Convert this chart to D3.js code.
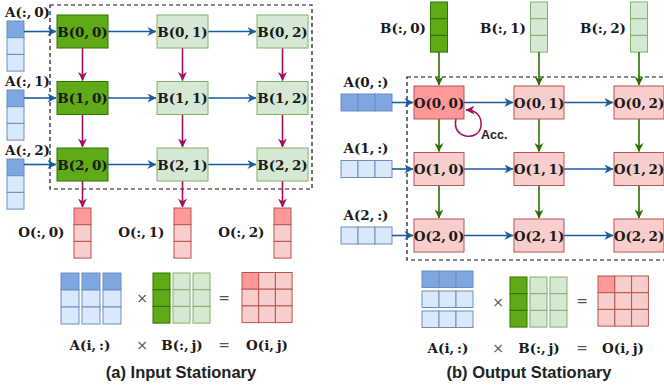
<!DOCTYPE html>
<html>
<head>
<meta charset="utf-8">
<script src="https://cdn.jsdelivr.net/npm/d3@7"></script>
<style>
  body { margin: 0; background: #fff; }
  svg { display: block; }
  .lbl { font-family: "DejaVu Serif", serif; font-weight: bold; font-size: 13.5px; fill: #1a1a1a; }
  .op { font-family: "DejaVu Sans", sans-serif; font-size: 14px; fill: #555; }
  .title { font-family: "Liberation Sans", Arial, sans-serif; font-weight: bold; font-size: 16.5px; fill: #222; }
</style>
</head>
<body>
<svg id="canvas" width="664" height="385"></svg>
<script>
const idx = [0, 1, 2]
const names = { a: "(a) Input Stationary", b: "(b) Output Stationary" }
const eqLabels = ["A(i,\u2009:)", "\u00d7", "B(:,\u2009j)", "=", "O(i,\u2009j)"]
const tsp = "\u2009"

const col = {
  blueD: "#7ea6e0", blueL: "#dae8fc", blueS: "#6c8ebf",
  greenD: "#60a917", greenDS: "#2d7600", greenL: "#d5e8d4", greenS: "#82b366",
  redD: "#ff9999", redL: "#f8cecc", redS: "#b85450",
  arrBlue: "#1a5ca3", arrPurple: "#a0105c", arrGreen: "#2a6e00"
}

const svg = d3.select("#canvas")
const defs = svg.append("defs")
function marker(id, c) {
  defs.append("marker").attr("id", id)
    .attr("viewBox", "0 0 10 10").attr("refX", 9.5).attr("refY", 5)
    .attr("markerWidth", 9).attr("markerHeight", 9).attr("markerUnits", "userSpaceOnUse")
    .attr("orient", "auto")
    .append("path").attr("d", "M0,0 L10,5 L0,10 L3,5 z").attr("fill", c)
}
marker("mb", col.arrBlue); marker("mp", col.arrPurple); marker("mg", col.arrGreen)

function arrow(g, x1, y1, x2, y2, c, m) {
  g.append("line").attr("x1", x1).attr("y1", y1).attr("x2", x2).attr("y2", y2)
    .attr("stroke", c).attr("stroke-width", 1.6).attr("marker-end", `url(#${m})`)
}
function cell(g, x, y, w, h, fill, stroke) {
  g.append("rect").attr("x", x).attr("y", y).attr("width", w).attr("height", h)
    .attr("fill", fill).attr("stroke", stroke).attr("stroke-width", 1)
}
// column vector, n cells stacked vertically
function colVec(g, x, y, w, h, fills, stroke) {
  fills.forEach((f, i) => cell(g, x, y + i * h, w, h, f, stroke))
}
function rowVec(g, x, y, w, h, fills, stroke) {
  fills.forEach((f, i) => cell(g, x + i * w, y, w, h, f, stroke))
}
function text(g, x, y, s, cls, anchor) {
  return g.append("text").attr("x", x).attr("y", y).attr("class", cls)
    .attr("text-anchor", anchor || "middle").text(s)
}

// ---------------- (a) Input Stationary ----------------
const ga = svg.append("g")
const bw = 51, bh = 33
const xA = d3.scaleLinear().domain([0, 2]).range([57, 257])
const yA = d3.scaleLinear().domain([0, 2]).range([15, 148])
const aTop = d3.scaleLinear().domain([0, 2]).range([21, 159])
const ch = 16.7

ga.append("rect").attr("x", 50).attr("y", 5).attr("width", 262).attr("height", 184)
  .attr("fill", "none").attr("stroke", "#111").attr("stroke-dasharray", "4,3").attr("stroke-width", 1.2)

idx.forEach(r => {
  colVec(ga, 7, aTop(r), 17, ch, [col.blueD, col.blueL, col.blueL], col.blueS)
  text(ga, 27.5, aTop(r) - 4, `A(:,${tsp}${r})`, "lbl")
  const yc = yA(r) + bh / 2
  arrow(ga, 24, yc, xA(0) - 1, yc, col.arrBlue, "mb")
  idx.slice(1).forEach(c => arrow(ga, xA(c - 1) + bw, yc, xA(c) - 1, yc, col.arrBlue, "mb"))
})
idx.forEach(c => {
  const xc = xA(c) + bw / 2
  idx.slice(1).forEach(r => arrow(ga, xc, yA(r - 1) + bh, xc, yA(r) - 1, col.arrPurple, "mp"))
  arrow(ga, xc, yA(2) + bh, xc, 207, col.arrPurple, "mp")
  colVec(ga, xc - 8.5, 208, 17, ch, [col.redD, col.redL, col.redL], col.redS)
  text(ga, xc - 18, 233, `O(:,${tsp}${c})`, "lbl", "end").attr("dominant-baseline", "middle")
})
idx.forEach(r => idx.forEach(c => {
  const dark = c === 0
  cell(ga, xA(c), yA(r), bw, bh, dark ? col.greenD : col.greenL, dark ? col.greenDS : col.greenS)
  text(ga, xA(c) + bw / 2, yA(r) + bh / 2 + 5, `B(${r},${tsp}${c})`, "lbl")
}))

// equation (a)
const eqA = d3.scaleLinear().domain([0, 2]).range([61, 103])
idx.forEach(c => colVec(ga, eqA(c), 273, 18, 17, [col.blueD, col.blueL, col.blueL], col.blueS))
const eqB = d3.scaleLinear().domain([0, 2]).range([153, 193])
idx.forEach(c => colVec(ga, eqB(c), 273, 17, 16.7,
  c === 0 ? [col.greenD, col.greenD, col.greenD] : [col.greenL, col.greenL, col.greenL],
  c === 0 ? col.greenDS : col.greenS))
idx.forEach(r => idx.forEach(c =>
  cell(ga, 242 + c * 16.7, 272.5 + r * 16.7, 16.7, 16.7, r === 0 && c === 0 ? col.redD : col.redL, col.redS)))
text(ga, 142, 303, "\u00d7", "op")
text(ga, 224, 303, "=", "op")
const labXA = [90, 142, 182, 224, 267]
eqLabels.forEach((s, i) => text(ga, labXA[i], 350, s, i % 2 ? "op" : "lbl"))
text(ga, 181, 378, names.a, "title")

// ---------------- (b) Output Stationary ----------------
const gb = svg.append("g")
const ow = 50, oh = 33
const xB = d3.scaleLinear().domain([0, 2]).range([414, 614])
const yB = d3.scaleLinear().domain([0, 2]).range([86, 219])

gb.append("rect").attr("x", 407).attr("y", 77).attr("width", 280).attr("height", 183)
  .attr("fill", "none").attr("stroke", "#111").attr("stroke-dasharray", "4,3").attr("stroke-width", 1.2)

idx.forEach(c => {
  const xc = xB(c) + ow / 2
  const dark = c === 0
  colVec(gb, xc - 8.5, 2, 17, ch, dark ? [col.greenD, col.greenD, col.greenD] : [col.greenL, col.greenL, col.greenL],
    dark ? col.greenDS : col.greenS)
  text(gb, xc - 13, 29, `B(:,${tsp}${c})`, "lbl", "end").attr("dominant-baseline", "middle")
  arrow(gb, xc, 52, xc, yB(0) - 1, col.arrGreen, "mg")
  idx.slice(1).forEach(r => arrow(gb, xc, yB(r - 1) + oh, xc, yB(r) - 1, col.arrGreen, "mg"))
})
idx.forEach(r => {
  const yc = yB(r) + oh / 2
  rowVec(gb, 341, yc - 8.5, 17, 17, r === 0 ? [col.blueD, col.blueD, col.blueD] : [col.blueL, col.blueL, col.blueL], col.blueS)
  text(gb, 366, yc - 16, `A(${r},${tsp}:)`, "lbl")
  arrow(gb, 392, yc, xB(0) - 1, yc, col.arrBlue, "mb")
  idx.slice(1).forEach(c => arrow(gb, xB(c - 1) + ow, yc, xB(c) - 1, yc, col.arrBlue, "mb"))
})
idx.forEach(r => idx.forEach(c => {
  const dark = r === 0 && c === 0
  cell(gb, xB(c), yB(r), ow, oh, dark ? col.redD : col.redL, col.redS)
  text(gb, xB(c) + ow / 2, yB(r) + oh / 2 + 5, `O(${r},${tsp}${c})`, "lbl")
}))
// accumulation loop
gb.append("path").attr("d", "M456,119 C451,139 479,142 481,126 C482,116 476,110 466,110")
  .attr("fill", "none").attr("stroke", col.arrPurple).attr("stroke-width", 1.6).attr("marker-end", "url(#mp)")
gb.append("text").attr("x", 481).attr("y", 139).text("Acc.")
  .attr("font-family", "Liberation Sans, Arial, sans-serif").attr("font-weight", "bold").attr("font-size", 12.5).attr("fill", "#222")

// equation (b)
idx.forEach(r => rowVec(gb, 422, 271 + r * 20, 17, 16.5,
  r === 0 ? [col.blueD, col.blueD, col.blueD] : [col.blueL, col.blueL, col.blueL], col.blueS))
const eqB2 = d3.scaleLinear().domain([0, 2]).range([510, 550])
idx.forEach(c => colVec(gb, eqB2(c), 277, 17, 16.7,
  c === 0 ? [col.greenD, col.greenD, col.greenD] : [col.greenL, col.greenL, col.greenL],
  c === 0 ? col.greenDS : col.greenS))
idx.forEach(r => idx.forEach(c =>
  cell(gb, 598 + c * 16.8, 276 + r * 16.7, 16.8, 16.7, r === 0 && c === 0 ? col.redD : col.redL, col.redS)))
text(gb, 498, 307, "\u00d7", "op")
text(gb, 582, 306, "=", "op")
const labXB = [448, 498, 539, 582, 623]
eqLabels.forEach((s, i) => text(gb, labXB[i], 353, s, i % 2 ? "op" : "lbl"))
text(gb, 529, 378, names.b, "title")
</script>
</body>
</html>
